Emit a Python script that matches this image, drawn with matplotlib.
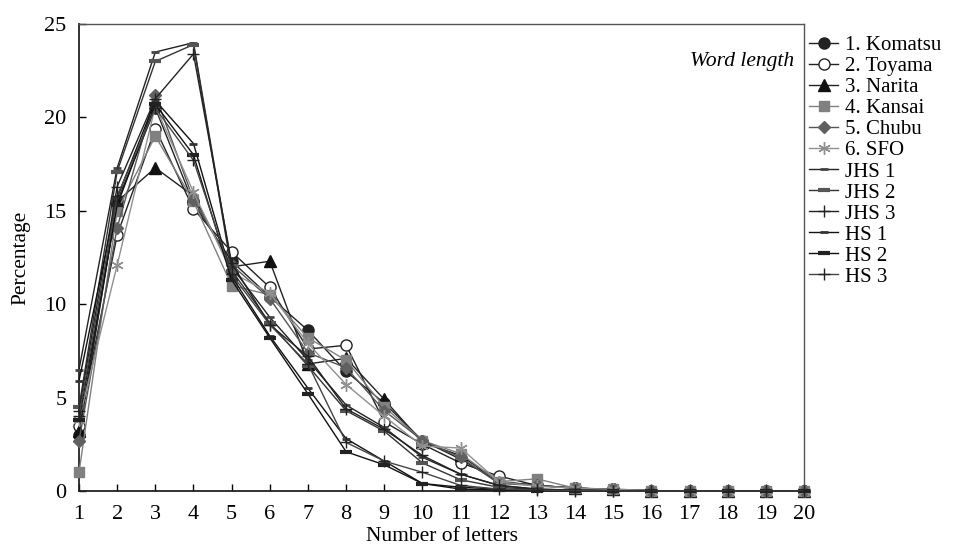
import numpy as np
import matplotlib.pyplot as plt

plt.rcParams['font.family'] = ['Liberation Serif', 'DejaVu Serif']

letters = list(range(1, 21))

komatsu = [3.0, 15.5, 20.5, 15.4, 12.3, 10.4, 8.6, 6.4, 4.7, 2.7, 1.7, 0.5, 0.3, 0.15, 0.08, 0.02, 0.0, 0.0, 0.0, 0.0]
toyama = [3.5, 13.7, 19.4, 15.1, 12.8, 10.9, 7.6, 7.8, 3.7, 2.5, 1.5, 0.8, 0.3, 0.15, 0.1, 0.02, 0.0, 0.0, 0.0, 0.0]
narita = [3.2, 15.5, 17.3, 15.8, 12.0, 12.3, 6.8, 7.1, 4.9, 2.6, 1.9, 0.5, 0.3, 0.15, 0.08, 0.02, 0.0, 0.0, 0.0, 0.0]
kansai = [1.0, 15.0, 19.0, 15.5, 11.0, 10.5, 8.2, 7.0, 4.5, 2.7, 2.0, 0.5, 0.65, 0.15, 0.08, 0.02, 0.0, 0.0, 0.0, 0.0]
chubu = [2.7, 14.1, 21.2, 15.6, 12.1, 10.3, 7.4, 6.6, 4.3, 2.7, 1.8, 0.4, 0.3, 0.15, 0.08, 0.02, 0.0, 0.0, 0.0, 0.0]
sfo = [3.8, 12.1, 20.6, 16.0, 11.7, 10.6, 7.9, 5.7, 4.0, 2.4, 2.3, 0.5, 0.25, 0.15, 0.08, 0.02, 0.0, 0.0, 0.0, 0.0]

jhs1 = [6.5, 17.3, 23.5, 24.0, 12.0, 9.3, 7.0, 4.6, 3.4, 1.8, 0.9, 0.3, 0.1, 0.05, 0.02, 0.0, 0.0, 0.0, 0.0, 0.0]
jhs2 = [4.5, 17.1, 23.0, 23.9, 11.8, 9.0, 6.7, 4.3, 3.2, 1.5, 0.6, 0.2, 0.08, 0.03, 0.01, 0.0, 0.0, 0.0, 0.0, 0.0]
jhs3 = [4.3, 16.3, 21.0, 23.4, 12.2, 8.9, 7.2, 4.4, 3.3, 1.9, 0.9, 0.3, 0.1, 0.04, 0.02, 0.0, 0.0, 0.0, 0.0, 0.0]
hs1 = [5.9, 15.7, 20.9, 18.6, 11.5, 8.3, 5.5, 2.8, 1.6, 0.4, 0.2, 0.1, 0.05, 0.02, 0.0, 0.0, 0.0, 0.0, 0.0, 0.0]
hs2 = [3.8, 15.3, 20.7, 18.0, 11.3, 8.2, 5.2, 2.1, 1.4, 0.4, 0.1, 0.05, 0.02, 0.01, 0.0, 0.0, 0.0, 0.0, 0.0, 0.0]
hs3 = [4.0, 15.8, 20.5, 17.7, 11.6, 8.9, 6.8, 2.6, 1.6, 1.0, 0.3, 0.1, 0.05, 0.02, 0.0, 0.0, 0.0, 0.0, 0.0, 0.0]

series = [
    ("1. Komatsu", komatsu, dict(color="#222222", marker="o", mfc="#222222", mec="#222222", ms=8)),
    ("2. Toyama", toyama, dict(color="#222222", marker="o", mfc="white", mec="#222222", ms=8)),
    ("3. Narita", narita, dict(color="#222222", marker="^", mfc="#111111", mec="#111111", ms=8)),
    ("4. Kansai", kansai, dict(color="#808080", marker="s", mfc="#808080", mec="#808080", ms=7)),
    ("5. Chubu", chubu, dict(color="#555555", marker="D", mfc="#606060", mec="#606060", ms=6)),
    ("6. SFO", sfo, dict(color="#909090", marker=(6, 2, 0), mfc="#909090", mec="#909090", ms=9)),
    ("JHS 1", jhs1, dict(color="#222222", marker="_", mec="#444444", ms=6, mew=2)),
    ("JHS 2", jhs2, dict(color="#333333", marker="_", mec="#555555", ms=8, mew=3)),
    ("JHS 3", jhs3, dict(color="#222222", marker="+", mec="#222222", ms=8, mew=1)),
    ("HS 1", hs1, dict(color="#111111", marker="_", mec="#333333", ms=6, mew=2)),
    ("HS 2", hs2, dict(color="#111111", marker="_", mec="#222222", ms=8, mew=3)),
    ("HS 3", hs3, dict(color="#444444", marker="+", mec="#222222", ms=8, mew=1)),
]

fig = plt.figure(figsize=(9.6, 5.47), dpi=100)
ax = fig.add_axes([0.0823, 0.1024, 0.7552, 0.8537])

for label, vals, style in series:
    ax.plot(letters, vals, label=label, lw=1.0, clip_on=False, zorder=3, **style)

ax.set_xlim(1, 20)
ax.set_ylim(0, 25)
ax.set_xticks(letters)
ax.set_yticks([0, 5, 10, 15, 20, 25])
ax.tick_params(direction="in", labelsize=16, length=5, width=1)
ax.tick_params(axis="y", pad=9)
ax.tick_params(axis="x", pad=10)
for side in ["left", "bottom"]:
    ax.spines[side].set_color("#222222")
    ax.spines[side].set_linewidth(1.3)
for side in ["top", "right"]:
    ax.spines[side].set_color("#555555")
    ax.spines[side].set_linewidth(1.0)
ax.set_xlabel("Number of letters", fontsize=15.5, labelpad=2)
ax.set_ylabel("Percentage", fontsize=15.5, labelpad=10)
ax.text(0.987, 0.92, "Word length", transform=ax.transAxes, ha="right", va="center",
        fontsize=15.5, style="italic")

handles, labels = ax.get_legend_handles_labels()
fig.legend(handles, labels, loc="upper left", bbox_to_anchor=(0.834, 0.95),
           frameon=False, fontsize=15, handlelength=1.4, handletextpad=0.35,
           labelspacing=0.07, borderaxespad=0)

fig.savefig("out.png", dpi=100)
